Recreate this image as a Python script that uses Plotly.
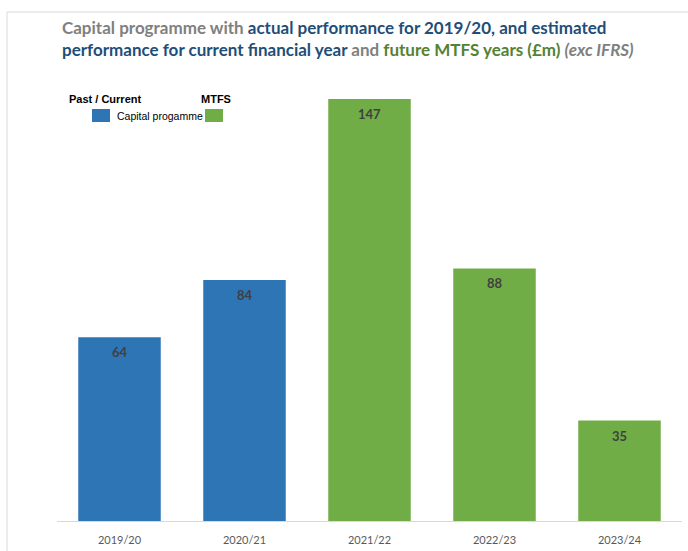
import plotly.graph_objects as go

years = ["2019/20", "2020/21", "2021/22", "2022/23", "2023/24"]
values = [64, 84, 147, 88, 35]
period = ["past", "past", "mtfs", "mtfs", "mtfs"]

BLUE = "#2E75B6"
GREEN = "#70AD47"
colors = [BLUE if p == "past" else GREEN for p in period]

W, H = 688, 551
ML, MR, MT, MB = 57, 6, 60, 30
PW, PH = W - ML - MR, H - MT - MB


def px(x):
    return (x - ML) / PW


def py(y):
    return (H - MB - y) / PH


fig = go.Figure()
fig.add_trace(go.Bar(
    x=years, y=values, marker=dict(color=colors, line=dict(width=0)),
    width=0.66, hoverinfo="skip", showlegend=False,
))

annotations = []
for yr, v in zip(years, values):
    annotations.append(dict(
        x=yr, y=v, xref="x", yref="y", text=f"<b>{v}</b>", showarrow=False,
        yanchor="top", yshift=-5, font=dict(family="Lato", size=13, color="#404040"),
    ))

title1 = ("<span style='color:#808080'>Capital programme with </span>"
          "<span style='color:#1F4E79'>actual performance for 2019/20, and estimated</span>")
title2 = ("<span style='color:#1F4E79'>performance for current financial year</span>"
          "<span style='color:#808080'> and </span>"
          "<span style='color:#548235'>future MTFS years (£m) </span>"
          "<span style='color:#808080'><i>(exc IFRS)</i></span>")
for t, yc in [(title1, 28), (title2, 50)]:
    annotations.append(dict(
        x=px(60), y=py(yc), xref="paper", yref="paper", text=f"<b>{t}</b>",
        showarrow=False, xanchor="left", yanchor="middle",
        font=dict(family="Lato", size=17),
    ))

legend_font = dict(family="Liberation Sans", size=11, color="#000000")
annotations += [
    dict(x=px(67), y=py(99), xref="paper", yref="paper", text="<b>Past / Current</b>",
         showarrow=False, xanchor="left", yanchor="middle", font=legend_font),
    dict(x=px(199), y=py(99), xref="paper", yref="paper", text="<b>MTFS</b>",
         showarrow=False, xanchor="left", yanchor="middle", font=legend_font),
    dict(x=px(115), y=py(116), xref="paper", yref="paper", text="Capital progamme",
         showarrow=False, xanchor="left", yanchor="middle",
         font=dict(family="Liberation Sans", size=10.5, color="#000000")),
]

shapes = [
    dict(type="rect", xref="paper", yref="paper", x0=px(92), x1=px(110), y0=py(122), y1=py(109),
         fillcolor=BLUE, line=dict(width=0)),
    dict(type="rect", xref="paper", yref="paper", x0=px(205), x1=px(223), y0=py(122), y1=py(109),
         fillcolor=GREEN, line=dict(width=0)),
    dict(type="line", xref="paper", yref="paper", x0=px(7), x1=px(688), y0=py(12), y1=py(12),
         line=dict(color="#D9D9D9", width=1)),
    dict(type="line", xref="paper", yref="paper", x0=px(7), x1=px(7), y0=py(12), y1=py(551),
         line=dict(color="#D9D9D9", width=1)),
]

fig.update_layout(
    width=W, height=H, margin=dict(l=ML, r=MR, t=MT, b=MB),
    paper_bgcolor="white", plot_bgcolor="white",
    bargap=0.34, annotations=annotations, shapes=shapes,
    xaxis=dict(showgrid=False, showline=True, linecolor="#D9D9D9", linewidth=1,
               ticks="outside", ticklen=9, tickcolor="rgba(0,0,0,0)",
               tickfont=dict(family="Lato", size=11, color="#595959")),
    yaxis=dict(range=[0, PH / 2.87], showgrid=False, showticklabels=False,
               zeroline=False, showline=False, ticks=""),
)

fig.write_html("out.html")
